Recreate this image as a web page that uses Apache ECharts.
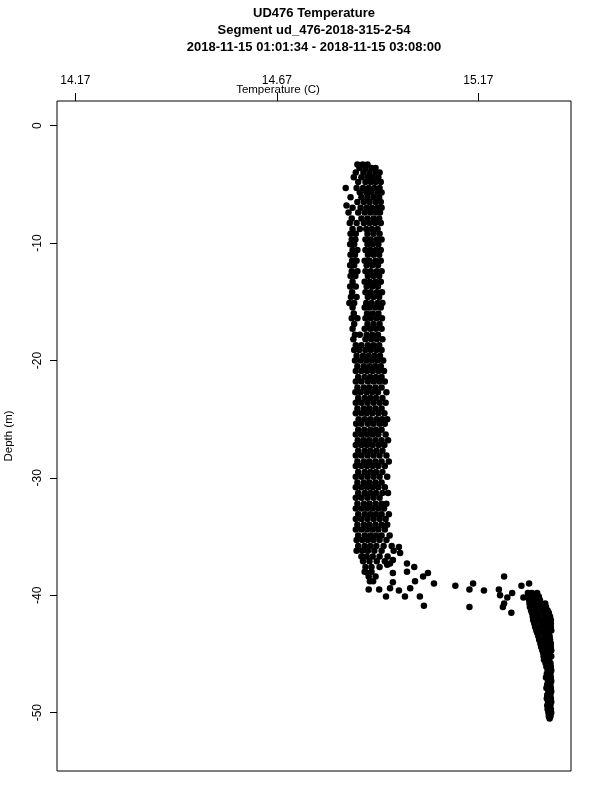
<!DOCTYPE html>
<html><head><meta charset="utf-8">
<script src="https://cdn.jsdelivr.net/npm/echarts@6/dist/echarts.min.js"></script>
<style>html,body{margin:0;padding:0;background:#fff}#c{width:600px;height:800px}</style>
</head><body><div id="c"></div>
<script>
const titleLines = ['UD476 Temperature', 'Segment ud_476-2018-315-2-54', '2018-11-15 01:01:34 - 2018-11-15 03:08:00'];
const xAxisTitle = 'Temperature (C)';
const yAxisTitle = 'Depth (m)';
const xTicks = [14.17, 14.67, 15.17];
const yTicks = [0, -10, -20, -30, -40, -50];

// mixed-layer column: [depth, temperatures...]
const columnRows = [
[-3.3, 14.870, 14.883, 14.895],
[-3.6, 14.875, 14.890, 14.905, 14.915],
[-4.0, 14.866, 14.885, 14.900, 14.915, 14.925],
[-4.4, 14.861, 14.880, 14.895, 14.908, 14.922],
[-4.8, 14.872, 14.890, 14.903, 14.915, 14.928],
[-5.3, 14.841, 14.868, 14.884, 14.898, 14.912, 14.925],
[-5.7, 14.876, 14.892, 14.905, 14.920, 14.930],
[-6.1, 14.853, 14.880, 14.895, 14.910, 14.924],
[-6.5, 14.870, 14.886, 14.900, 14.915, 14.928],
[-6.8, 14.843],
[-7.0, 14.858, 14.878, 14.893, 14.906, 14.920, 14.930],
[-7.4, 14.848, 14.872, 14.888, 14.902, 14.916, 14.926],
[-7.9, 14.856, 14.880, 14.895, 14.910, 14.924],
[-8.3, 14.851, 14.868, 14.886, 14.900, 14.914, 14.928],
[-8.8, 14.858, 14.876, 14.892, 14.906, 14.920],
[-9.2, 14.853, 14.866, 14.895, 14.910, 14.925],
[-9.7, 14.856, 14.865, 14.890, 14.903, 14.918, 14.930],
[-10.1, 14.852, 14.862, 14.895, 14.908, 14.922],
[-10.6, 14.858, 14.870, 14.890, 14.902, 14.916, 14.928],
[-11.0, 14.853, 14.864, 14.896, 14.910, 14.924],
[-11.5, 14.857, 14.868, 14.888, 14.900, 14.915, 14.928],
[-11.9, 14.852, 14.862, 14.893, 14.907, 14.921],
[-12.4, 14.856, 14.870, 14.890, 14.903, 14.918, 14.930],
[-12.8, 14.853, 14.865, 14.896, 14.910, 14.924],
[-13.3, 14.858, 14.888, 14.901, 14.915, 14.928],
[-13.7, 14.852, 14.866, 14.893, 14.907, 14.921],
[-14.2, 14.857, 14.890, 14.903, 14.918, 14.931],
[-14.6, 14.854, 14.868, 14.896, 14.910, 14.924],
[-15.1, 14.850, 14.862, 14.892, 14.905, 14.920, 14.932],
[-15.5, 14.858, 14.888, 14.900, 14.914, 14.928],
[-16.0, 14.861, 14.894, 14.908, 14.922],
[-16.4, 14.856, 14.870, 14.890, 14.903, 14.917, 14.931],
[-16.9, 14.862, 14.895, 14.910, 14.925],
[-17.3, 14.858, 14.888, 14.902, 14.916, 14.930],
[-17.8, 14.864, 14.876, 14.893, 14.907, 14.921],
[-18.2, 14.860, 14.890, 14.904, 14.918, 14.932],
[-18.7, 14.866, 14.880, 14.896, 14.910, 14.924],
[-19.1, 14.862, 14.875, 14.890, 14.903, 14.917, 14.930],
[-19.6, 14.868, 14.884, 14.898, 14.912, 14.926],
[-20.0, 14.864, 14.878, 14.892, 14.906, 14.920, 14.934],
[-20.5, 14.870, 14.886, 14.900, 14.914, 14.928],
[-20.9, 14.866, 14.880, 14.894, 14.908, 14.922, 14.936],
[-21.4, 14.872, 14.888, 14.902, 14.916, 14.930],
[-21.8, 14.866, 14.880, 14.896, 14.910, 14.924, 14.938],
[-22.3, 14.870, 14.886, 14.900, 14.915, 14.930],
[-22.7, 14.865, 14.878, 14.893, 14.907, 14.921, 14.942],
[-23.2, 14.872, 14.888, 14.902, 14.916, 14.932],
[-23.6, 14.866, 14.880, 14.895, 14.910, 14.925, 14.940],
[-24.1, 14.870, 14.886, 14.900, 14.915, 14.930],
[-24.5, 14.866, 14.880, 14.893, 14.907, 14.922, 14.937],
[-25.0, 14.873, 14.888, 14.902, 14.917, 14.931, 14.944],
[-25.4, 14.867, 14.880, 14.896, 14.910, 14.925, 14.938],
[-25.9, 14.872, 14.887, 14.902, 14.916, 14.930],
[-26.3, 14.866, 14.880, 14.894, 14.908, 14.922, 14.940],
[-26.8, 14.871, 14.886, 14.900, 14.915, 14.930, 14.946],
[-27.2, 14.866, 14.880, 14.894, 14.908, 14.923, 14.937],
[-27.7, 14.872, 14.888, 14.902, 14.917, 14.932],
[-28.1, 14.866, 14.880, 14.895, 14.910, 14.925, 14.942],
[-28.6, 14.870, 14.886, 14.900, 14.915, 14.930, 14.948],
[-29.0, 14.866, 14.880, 14.894, 14.908, 14.922, 14.938],
[-29.5, 14.872, 14.888, 14.902, 14.916, 14.932],
[-29.9, 14.866, 14.880, 14.895, 14.910, 14.925, 14.944],
[-30.4, 14.870, 14.886, 14.900, 14.915, 14.930],
[-30.8, 14.866, 14.880, 14.894, 14.908, 14.922, 14.938],
[-31.3, 14.872, 14.888, 14.902, 14.916, 14.932, 14.946],
[-31.7, 14.866, 14.880, 14.895, 14.910, 14.925],
[-32.2, 14.870, 14.886, 14.900, 14.915, 14.930, 14.942],
[-32.6, 14.866, 14.880, 14.894, 14.908, 14.922, 14.936],
[-33.1, 14.872, 14.888, 14.902, 14.916, 14.930, 14.948],
[-33.5, 14.866, 14.880, 14.895, 14.910, 14.925, 14.940],
[-34.0, 14.870, 14.886, 14.900, 14.915, 14.930, 14.944],
[-34.4, 14.866, 14.880, 14.894, 14.908, 14.922, 14.938],
[-34.9, 14.872, 14.888, 14.902, 14.916, 14.930, 14.950],
[-35.3, 14.868, 14.882, 14.896, 14.910, 14.925, 14.942],
[-35.8, 14.872, 14.888, 14.902, 14.917, 14.935, 14.955],
[-36.2, 14.868, 14.882, 14.896, 14.912, 14.930, 14.960],
[-36.7, 14.880, 14.893, 14.908, 14.925, 14.945],
[-37.1, 14.884, 14.900, 14.918, 14.938],
[-37.6, 14.890, 14.905, 14.925],
[-38.0, 14.888, 14.905],
[-38.4, 14.898, 14.915]
];

// thermocline scatter: [temperature, depth]
const transitionPoints = [
[15.113, -39.2], [15.035, -40.9], [15.025, -40.1], [15.001, -39.4], [14.988, -40.1],
[14.973, -39.6], [14.941, -40.1], [14.951, -39.4], [14.924, -39.5], [14.898, -39.5],
[15.013, -38.8], [15.033, -38.4], [15.045, -38.1], [15.060, -39.0], [14.993, -38.0],
[15.011, -37.6], [14.993, -37.3], [14.958, -38.1], [14.958, -38.9], [14.901, -38.8],
[14.909, -38.8], [14.896, -38.1], [14.976, -36.4], [14.973, -35.9], [14.958, -37.0],
[14.951, -37.3], [14.944, -37.4], [15.157, -39.0], [15.148, -39.5], [15.184, -39.6],
[15.148, -41.0], [15.234, -38.4], [15.221, -39.5], [15.224, -40.0], [15.277, -39.2],
[15.296, -39.0], [15.254, -39.8], [15.242, -40.2], [15.234, -40.7], [15.231, -41.0],
[15.252, -41.5], [15.282, -40.2]
];

// bottom layer: [depth, temperatures...]
const bottomRows = [
[-39.8, 15.293, 15.303, 15.316],
[-40.1, 15.294, 15.306, 15.320],
[-40.4, 15.296, 15.308, 15.323],
[-40.7, 15.297, 15.310, 15.325, 15.336],
[-41.0, 15.298, 15.311, 15.326, 15.338],
[-41.3, 15.301, 15.314, 15.329, 15.342],
[-41.5, 15.303, 15.316, 15.331, 15.345],
[-41.8, 15.305, 15.319, 15.334, 15.348],
[-42.1, 15.306, 15.321, 15.336, 15.350],
[-42.4, 15.309, 15.324, 15.338, 15.350],
[-42.7, 15.311, 15.326, 15.340, 15.350],
[-43.0, 15.314, 15.329, 15.343, 15.351],
[-43.2, 15.316, 15.331, 15.345],
[-43.5, 15.319, 15.334, 15.347],
[-43.8, 15.321, 15.336, 15.348],
[-44.1, 15.324, 15.338, 15.350],
[-44.4, 15.326, 15.340, 15.350],
[-44.7, 15.329, 15.342, 15.351],
[-44.9, 15.331, 15.343],
[-45.2, 15.332, 15.345, 15.351],
[-45.5, 15.333, 15.346],
[-45.8, 15.337, 15.349],
[-46.1, 15.339, 15.350],
[-46.4, 15.342, 15.351],
[-46.7, 15.340, 15.349],
[-47.0, 15.338, 15.350],
[-47.3, 15.343, 15.351],
[-47.6, 15.341, 15.349],
[-47.9, 15.339, 15.350],
[-48.2, 15.344, 15.351],
[-48.5, 15.341, 15.349],
[-48.8, 15.340, 15.350],
[-49.1, 15.343, 15.351],
[-49.4, 15.341, 15.349],
[-49.7, 15.342, 15.350],
[-50.0, 15.344, 15.351],
[-50.3, 15.345, 15.349],
[-50.5, 15.347]
];

function rowsToPoints(rows) {
  const out = [];
  rows.forEach(r => { for (let i = 1; i < r.length; i++) out.push([r[i], r[0]]); });
  return out;
}
const points = rowsToPoints(columnRows).concat(transitionPoints, rowsToPoints(bottomRows));

const FONT = '"Liberation Sans", Arial, Helvetica, sans-serif';
const chart = echarts.init(document.getElementById('c'), null, {renderer: 'canvas'});
chart.setOption({
  animation: false,
  backgroundColor: '#fff',
  grid: {left: 57, top: 101, width: 514, height: 670, show: true, borderColor: '#000', borderWidth: 1, backgroundColor: 'transparent'},
  xAxis: {
    type: 'value', position: 'top', min: 14.1246, max: 15.400,
    axisLine: {show: false, onZero: false}, splitLine: {show: false},
    axisTick: {show: true, inside: false, length: 8, lineStyle: {color: '#000', width: 1}, customValues: xTicks},
    axisLabel: {customValues: xTicks, formatter: v => v.toFixed(2), margin: 14, color: '#000', fontSize: 12, fontFamily: FONT}
  },
  yAxis: {
    type: 'value', min: -54.97, max: 2.10,
    axisLine: {show: false, onZero: false}, splitLine: {show: false},
    axisTick: {show: true, inside: false, length: 7, lineStyle: {color: '#000', width: 1}, customValues: yTicks},
    axisLabel: {customValues: yTicks, rotate: 90, margin: 13, color: '#000', fontSize: 12, fontFamily: FONT}
  },
  series: [{
    type: 'scatter', data: points, symbol: 'circle', symbolSize: 6.5,
    itemStyle: {color: '#000', opacity: 1}, silent: true
  }],
  graphic: [
    {type: 'text', x: 314, y: 13, style: {text: titleLines[0], font: 'bold 13px ' + FONT, fill: '#000', textAlign: 'center', textVerticalAlign: 'middle'}},
    {type: 'text', x: 314, y: 30, style: {text: titleLines[1], font: 'bold 13px ' + FONT, fill: '#000', textAlign: 'center', textVerticalAlign: 'middle'}},
    {type: 'text', x: 314, y: 47, style: {text: titleLines[2], font: 'bold 13px ' + FONT, fill: '#000', textAlign: 'center', textVerticalAlign: 'middle'}},
    {type: 'text', x: 278, y: 90, style: {text: xAxisTitle, font: '11.5px ' + FONT, fill: '#000', textAlign: 'center', textVerticalAlign: 'middle'}},
    {type: 'text', x: 9, y: 436, rotation: Math.PI / 2, style: {text: yAxisTitle, font: '11.5px ' + FONT, fill: '#000', textAlign: 'center', textVerticalAlign: 'middle'}}
  ]
});
</script>
</body></html>
